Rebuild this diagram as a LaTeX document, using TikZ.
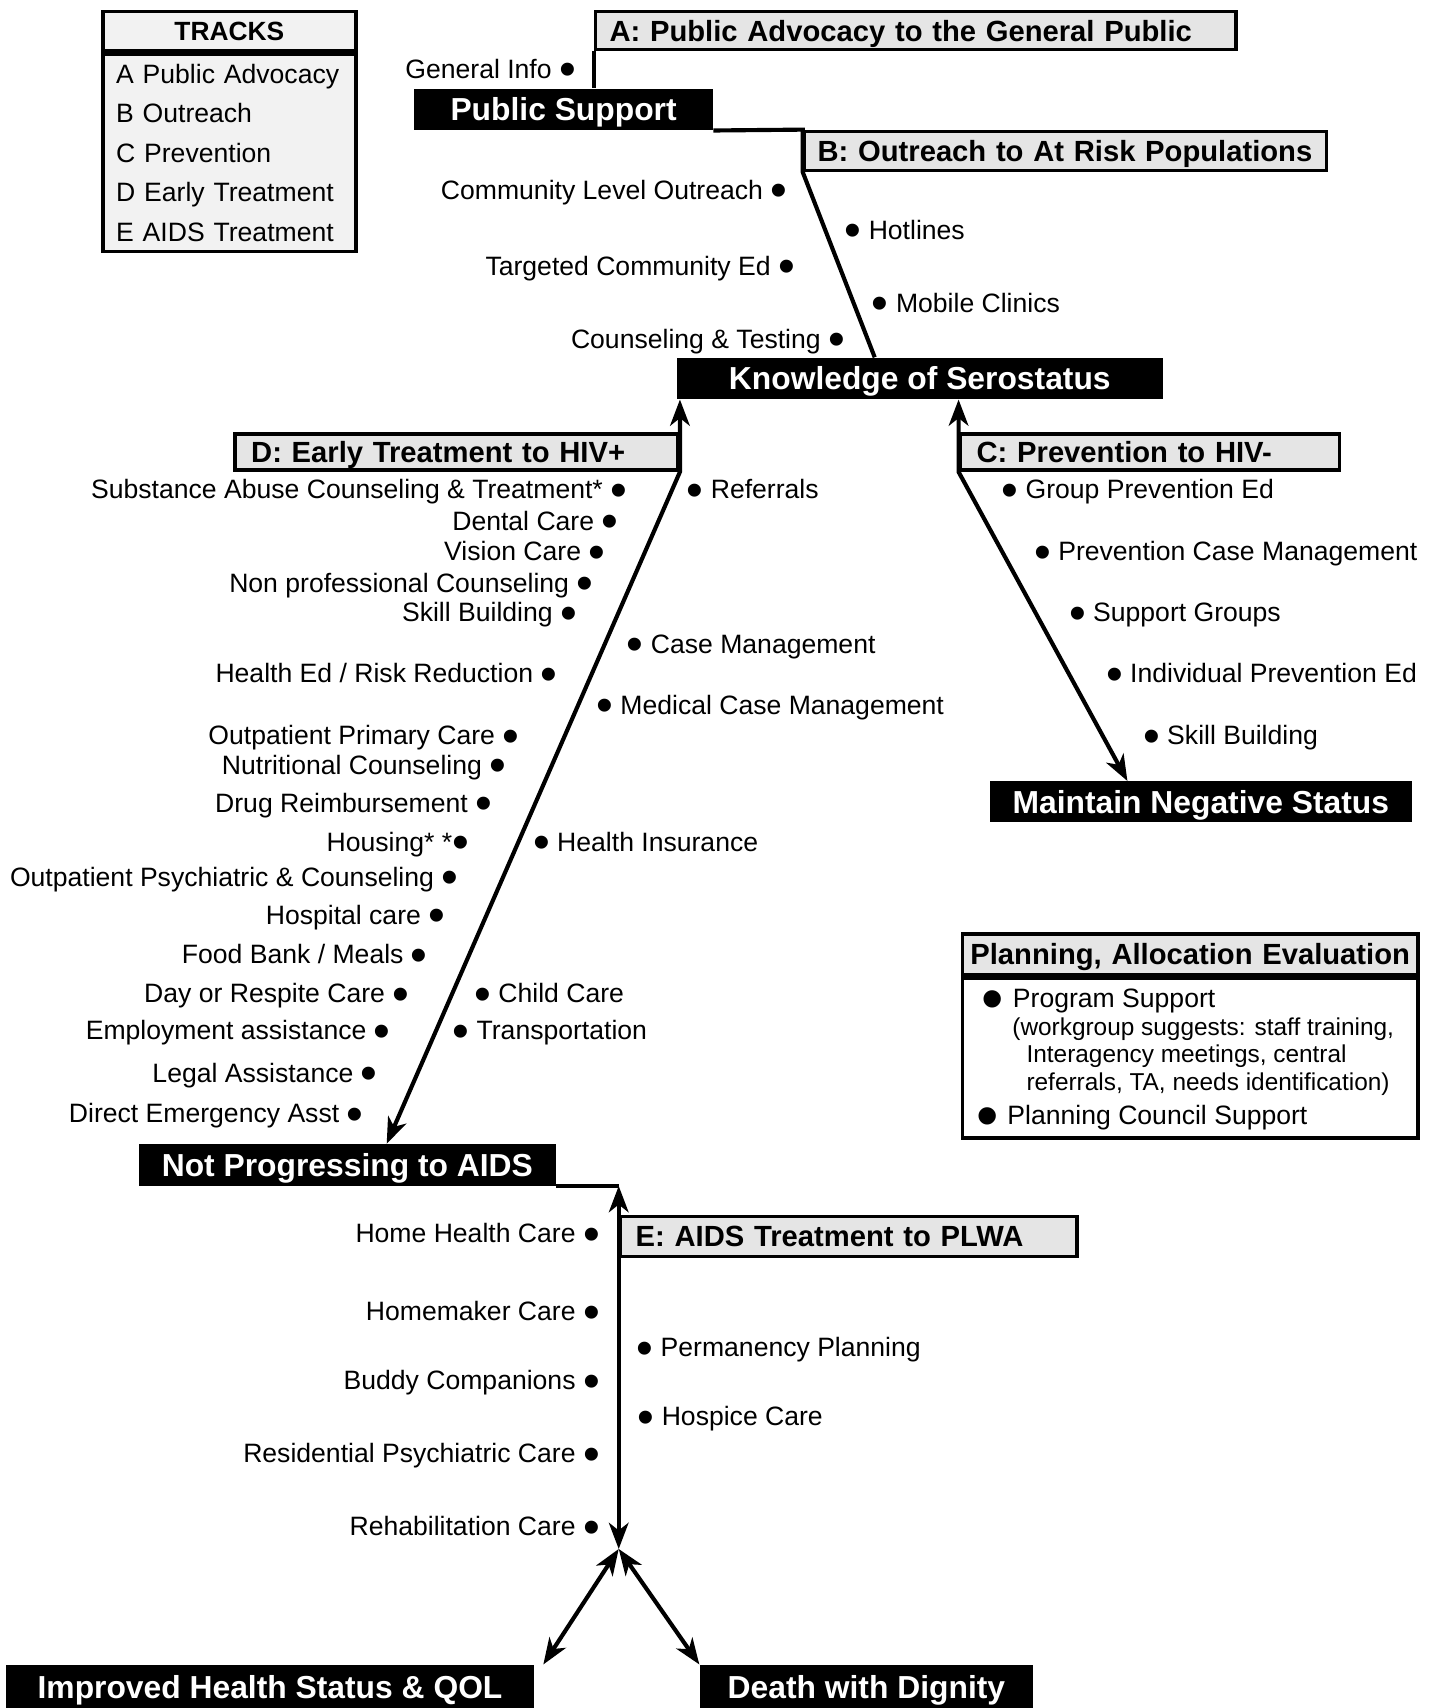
\documentclass[tikz,border=0pt]{standalone}
\usepackage{fontspec}
\setmainfont{Liberation Sans}
\usetikzlibrary{arrows.meta, positioning}
\definecolor{hdrgray}{RGB}{229,229,229}
\definecolor{trackgray}{RGB}{242,242,242}
\newcommand{\itemfont}{\fontsize{12.2}{14}\selectfont}
\newcommand{\notefont}{\fontsize{11.2}{13}\selectfont}
\newcommand{\hdrfont}{\bfseries\fontsize{13.4}{16}\selectfont}
\newcommand{\outfont}{\bfseries\fontsize{14.6}{17}\selectfont}
\newcommand{\blt}{\raisebox{-0.28em}{\scalebox{1.8}{\textbullet}}}
\newcommand{\bigblt}{\raisebox{-0.48em}{\scalebox{2.4}{\textbullet}}}

\begin{document}
\begin{tikzpicture}[x=0.5pt, y=-0.5pt,
    item/.style={inner sep=0pt, font=\itemfont, text height=8.7pt, text depth=0pt},
    ritem/.style={item, anchor=east},
    litem/.style={item, anchor=west},
    hdr/.style={draw, line width=1.6pt, fill=hdrgray, anchor=north west, inner ysep=0pt,
                text height=9.6pt, text depth=0pt, align=left, font=\hdrfont},
    panel/.style={draw, line width=1.6pt, inner ysep=0pt},
    outcome/.style={fill=black, text=white, anchor=north west, inner sep=0pt,
                    text height=10.5pt, text depth=0pt, font=\outfont},
    link/.style={line width=1.9pt},
    arr/.style={link, {Stealth[length=12pt, width=9pt, inset=3.5pt]}-{Stealth[length=12pt, width=9pt, inset=3.5pt]}}
  ]
    \useasboundingbox (0,0) rectangle (1315,1568);

    % legend
    \node[panel, fill=trackgray, anchor=north west, text width=104pt, inner xsep=6pt,
          minimum height=18pt, text height=8.7pt, text depth=0pt, align=center,
          font=\bfseries\fontsize{12.1}{14}\selectfont] (trhead) at (93,9) {TRACKS};
    \node[panel, fill=trackgray, below=0pt of trhead, text width=104pt, inner xsep=6pt,
          minimum height=90.5pt, text height=8.7pt, text depth=72.4pt, align=left,
          font=\fontsize{12.2}{18.1}\selectfont]
          (trbody) {A Public Advocacy\\B Outreach\\C Prevention\\D Early Treatment\\E AIDS Treatment};

    % track headers
    \node[hdr, text width=281pt, inner xsep=6.5pt, minimum height=17.5pt] (hA) at (545,9) {A: Public Advocacy to the General Public};
    \node[hdr, text width=227.5pt, inner xsep=6pt, minimum height=18pt] (hB) at (737,119) {B: Outreach to At Risk Populations};
    \node[hdr, text width=188.5pt, inner xsep=7.5pt, minimum height=16.5pt] (hD) at (214,397) {D: Early Treatment to HIV+};
    \node[hdr, text width=159pt, inner xsep=7.5pt, minimum height=16.5pt] (hC) at (880,397) {C: Prevention to HIV-};
    \node[hdr, text width=195.5pt, inner xsep=7pt, minimum height=18.5pt] (hE) at (568,1115) {E: AIDS Treatment to PLWA};

    % outcomes
    \node[outcome, minimum width=137pt, minimum height=19pt] (ps) at (380,81) {Public Support};
    \node[outcome, minimum width=223pt, minimum height=19pt] (kn) at (621,328) {Knowledge of Serostatus};
    \node[outcome, minimum width=194pt, minimum height=18.5pt] (mn) at (908,717) {Maintain Negative Status};
    \node[outcome, minimum width=191.5pt, minimum height=19pt] (np) at (127,1050) {Not Progressing to AIDS};
    \node[outcome, minimum width=242.5pt, minimum height=20pt] (ih) at (5,1528) {Improved Health Status \& QOL};
    \node[outcome, minimum width=153pt, minimum height=20pt] (dd) at (642,1528) {Death with Dignity};

    % planning box
    \node[panel, fill=hdrgray, anchor=north west, text width=203pt, inner xsep=3pt,
          minimum height=18.5pt, text height=9.6pt, text depth=0pt, align=center,
          font=\hdrfont] (phead) at (882,856) {Planning, Allocation Evaluation};
    \node[panel, below=0pt of phead, minimum width=209pt, minimum height=73.5pt] (pbody) {};
    \node[litem] (p1) at (901,916) {\bigblt\hspace{4pt}Program Support};
    \node[litem, font=\notefont] (p2) at (929,942) {(workgroup suggests: staff training,};
    \node[litem, font=\notefont] (p3) at (942,967) {Interagency meetings, central};
    \node[litem, font=\notefont] (p4) at (942,992) {referrals, TA, needs identification)};
    \node[litem] (p5) at (896,1024) {\bigblt\hspace{4pt}Planning Council Support};

    % track A and B items
    \node[ritem] (a1) at (529,63) {General Info \blt};
    \node[ritem] (b1) at (723,174) {Community Level Outreach \blt};
    \node[ritem] (b2) at (730,244) {Targeted Community Ed \blt};
    \node[ritem] (b3) at (776,311) {Counseling \& Testing \blt};
    \node[litem] (b4) at (775,211) {\blt\ Hotlines};
    \node[litem] (b5) at (800,278) {\blt\ Mobile Clinics};

    % track C items
    \node[litem] (c1) at (919,449) {\blt\ Group Prevention Ed};
    \node[litem] (c2) at (949,506) {\blt\ Prevention Case Management};
    \node[litem] (c3) at (981,562) {\blt\ Support Groups};
    \node[litem] (c4) at (1015,618) {\blt\ Individual Prevention Ed};
    \node[litem] (c5) at (1049,675) {\blt\ Skill Building};

    % track D items
    \node[ritem] (d1) at (576,449) {Substance Abuse Counseling \& Treatment* \blt};
    \node[ritem] (d2) at (568,478) {Dental Care \blt};
    \node[ritem] (d3) at (556,506) {Vision Care \blt};
    \node[ritem] (d4) at (545,535) {Non professional Counseling \blt};
    \node[ritem] (d5) at (530,562) {Skill Building \blt};
    \node[ritem] (d6) at (512,618) {Health Ed / Risk Reduction \blt};
    \node[ritem] (d7) at (477,675) {Outpatient Primary Care \blt};
    \node[ritem] (d8) at (465,702) {Nutritional Counseling \blt};
    \node[ritem] (d9) at (452,737) {Drug Reimbursement \blt};
    \node[ritem] (d10) at (431,773) {Housing* *\blt};
    \node[ritem] (d11) at (421,805) {Outpatient Psychiatric \& Counseling \blt};
    \node[ritem] (d12) at (409,840) {Hospital care \blt};
    \node[ritem] (d13) at (393,876) {Food Bank / Meals \blt};
    \node[ritem] (d14) at (376,912) {Day or Respite Care \blt};
    \node[ritem] (d15) at (359,946) {Employment assistance \blt};
    \node[ritem] (d16) at (347,985) {Legal Assistance \blt};
    \node[ritem] (d17) at (334,1022) {Direct Emergency Asst \blt};
    \node[litem] (d18) at (630,449) {\blt\ Referrals};
    \node[litem] (d19) at (575,591) {\blt\ Case Management};
    \node[litem] (d20) at (547,647) {\blt\ Medical Case Management};
    \node[litem] (d21) at (489,773) {\blt\ Health Insurance};
    \node[litem] (d22) at (435,912) {\blt\ Child Care};
    \node[litem] (d23) at (415,946) {\blt\ Transportation};

    % track E items
    \node[ritem] (e1) at (551,1132) {Home Health Care \blt};
    \node[ritem] (e2) at (551,1204) {Homemaker Care \blt};
    \node[ritem] (e3) at (551,1267) {Buddy Companions \blt};
    \node[ritem] (e4) at (551,1334) {Residential Psychiatric Care \blt};
    \node[ritem] (e5) at (551,1401) {Rehabilitation Care \blt};
    \node[litem] (e6) at (584,1237) {\blt\ Permanency Planning};
    \node[litem] (e7) at (585,1300) {\blt\ Hospice Care};

    % connectors
    \draw[link] (hA.south west) -- (hA.west |- ps.north);
    \draw[link] (ps.south east) -- (hB.north west) -- (hB.south west) -- ([xshift=91pt]kn.north west);
    \draw[arr] (hD.east |- kn.south) -- (hD.south east) -- ([xshift=114pt]np.north west);
    \draw[arr] (hC.west |- kn.south) -- (hC.south west) -- ([xshift=63.5pt]mn.north west);
    \draw[link] (np.south east) -- (np.south east -| hE.west);
    \coordinate (fork) at (568,1422);
    \draw[arr] (np.south east -| hE.west) -- (fork);
    \draw[arr] (fork) -- ([xshift=4pt]ih.north east);
    \draw[arr] (fork) -- (dd.north west);
  \end{tikzpicture}
\end{document}
